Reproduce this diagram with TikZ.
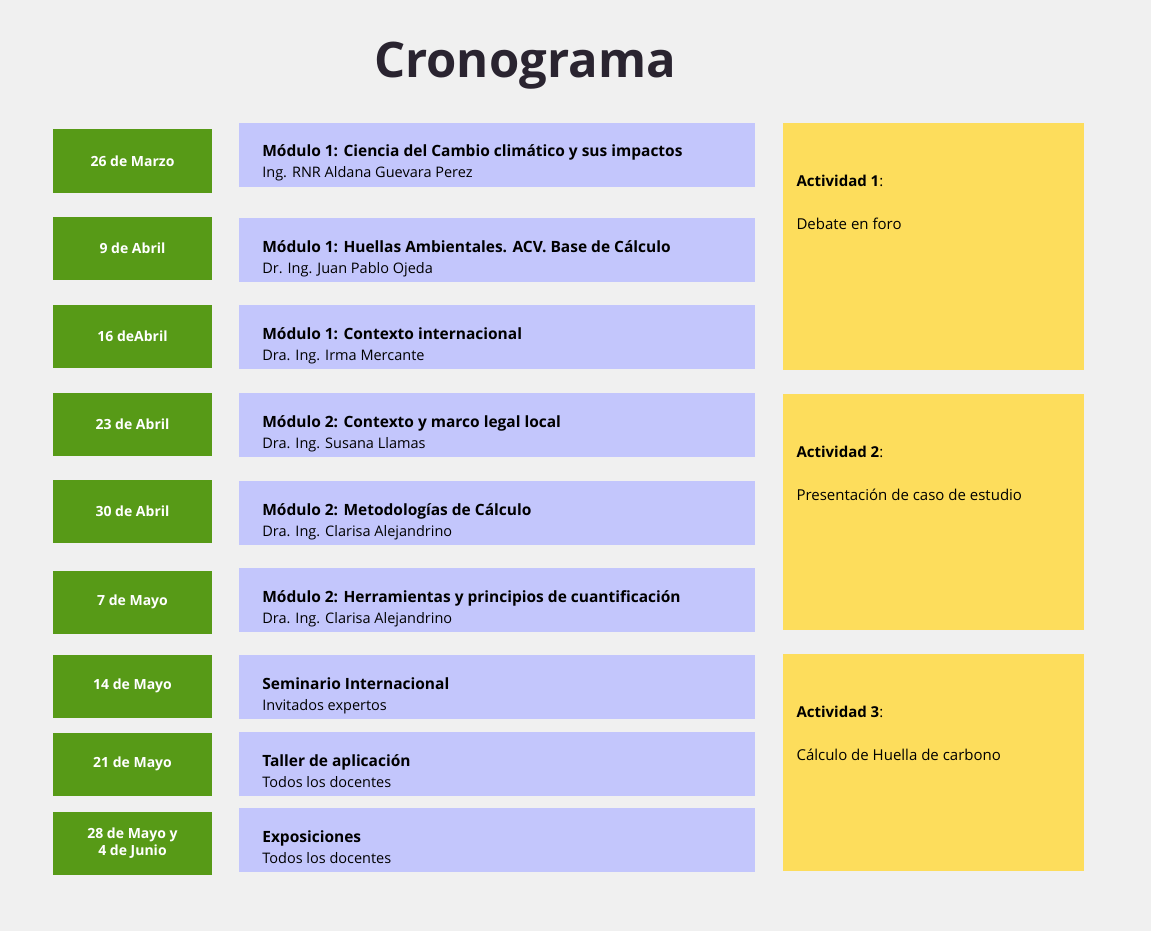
\documentclass[tikz,border=0pt]{standalone}
\usepackage{fontspec}
\setmainfont{Open Sans}
\usetikzlibrary{positioning}
\definecolor{fondo}{HTML}{F0F0F0}
\definecolor{verde}{HTML}{579A17}
\definecolor{lila}{HTML}{C3C6FC}
\definecolor{amarillo}{HTML}{FDDD5C}
\definecolor{tinta}{HTML}{2A2430}
\tikzset{
  fecha/.style={fill=verde,text=white,font=\bfseries\fontsize{14}{17}\selectfont,align=center,minimum width=159,minimum height=63,inner sep=0},
  modulo/.style={fill=lila,minimum width=516,minimum height=64,inner sep=0},
  actividad/.style={fill=amarillo,minimum width=301,inner sep=0}
}
\begin{document}
\begin{tikzpicture}[x=1pt,y=-1pt]
\fill[fondo] (0,0) rectangle (1151,931);
\node[font=\bfseries\fontsize{49}{54}\selectfont,text=tinta] (titulo) at (525,66) {Cronograma};

% fechas
\foreach \t/\y [count=\i] in {26 de Marzo/161, 9 de Abril/248, 16 deAbril/336, 23 de Abril/424, 30 de Abril/511, 7 de Mayo/602, 14 de Mayo/686, 21 de Mayo/764, {28 de Mayo y\\ 4 de Junio}/843}
  \node[fecha] (fecha-\i) at (132.5,\y) {\t};

% modulos
\foreach \y/\a/\b [count=\i] in {
  155/{Módulo 1: Ciencia del Cambio climático y sus impactos}/{Ing. RNR Aldana Guevara Perez},
  250/{Módulo 1: Huellas Ambientales. ACV. Base de Cálculo}/{Dr. Ing. Juan Pablo Ojeda},
  337/{Módulo 1: Contexto internacional}/{Dra. Ing. Irma Mercante},
  425/{Módulo 2: Contexto y marco legal local}/{Dra. Ing. Susana Llamas},
  513/{Módulo 2: Metodologías de Cálculo}/{Dra. Ing. Clarisa Alejandrino},
  600/{Módulo 2: Herramientas y principios de cuantificación}/{Dra. Ing. Clarisa Alejandrino},
  687/{Seminario Internacional}/{Invitados expertos},
  764/{Taller de aplicación}/{Todos los docentes},
  840/{Exposiciones}/{Todos los docentes}}
{
  \node[modulo] (modulo-\i) at (497,\y) {};
  \node[anchor=base west,font=\bfseries\fontsize{15.5}{18}\selectfont] (titmod-\i) at ([xshift=20,yshift=-2]modulo-\i.west) {\a};
  \node[anchor=base west,font=\fontsize{14.5}{17}\selectfont] (prof-\i) at ([xshift=20,yshift=-23]modulo-\i.west) {\b};
}

% actividades
\foreach \ya/\yb/\n/\d [count=\i] in {123/370/1/Debate en foro, 394/630/2/Presentación de caso de estudio, 654/871/3/Cálculo de Huella de carbono}
{
  \node[actividad,minimum height=\yb-\ya,anchor=north west] (act-\i) at (783,\ya) {};
  \node[anchor=north west,font=\fontsize{15}{18}\selectfont] (titact-\i) at ([xshift=10,yshift=-49]act-\i.north west) {\textbf{Actividad \n}:};
  \node[anchor=north west,font=\fontsize{15}{18}\selectfont] (desc-\i) at ([yshift=-24]titact-\i.south west) {\d};
}
\end{tikzpicture}
\end{document}
